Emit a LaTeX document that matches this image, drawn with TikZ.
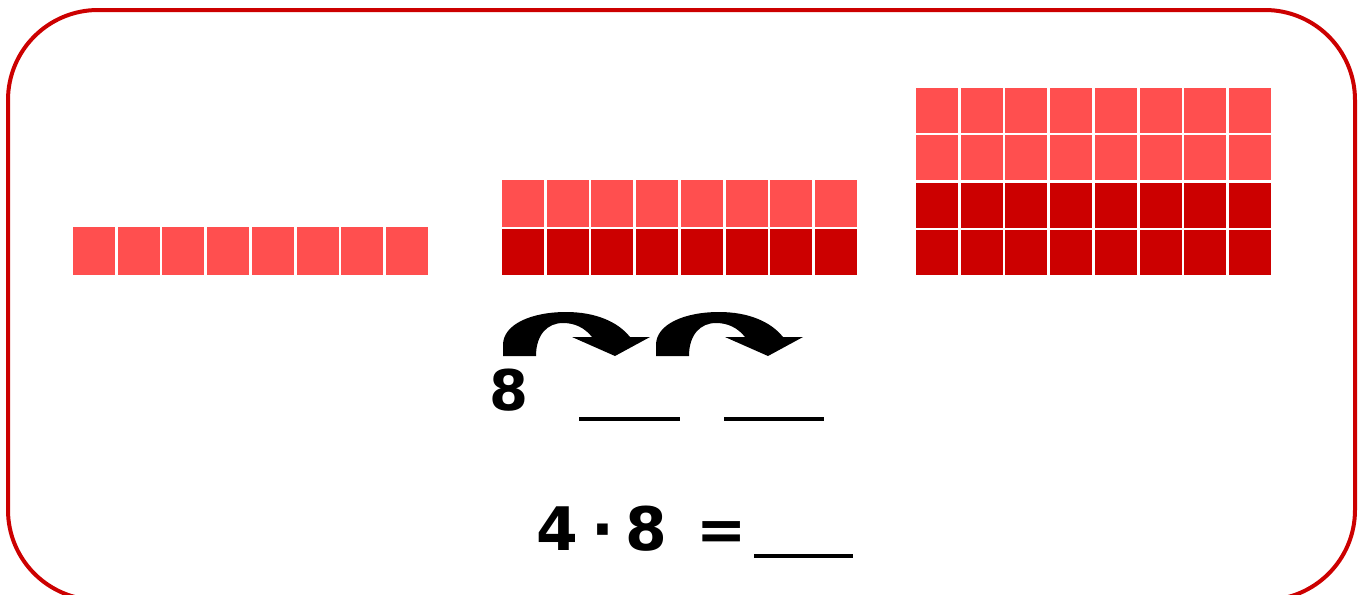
\documentclass[tikz,border=0pt]{standalone}
\usepackage{fontspec}
\setmainfont{DejaVu Sans}
\definecolor{lightred}{HTML}{FF4F4F}
\definecolor{darkred}{HTML}{CC0000}
\begin{document}
\begin{tikzpicture}[x=0.5pt,y=-0.5pt,
  sq/.style={inner sep=0pt, outer sep=0pt, anchor=north west, minimum width=21pt},
  lightsq/.style={sq, fill=lightred},
  darksq/.style={sq, fill=darkred},
  txt/.style={inner sep=0pt, anchor=base, font=\bfseries\fontsize{30pt}{30pt}\selectfont},
  blank/.style={line width=2pt, black},
  jump/.style={fill=black}]
\useasboundingbox (0,0) rectangle (1367,595);
\clip (0,0) rectangle (1367,595);
% frame
\draw[darkred, line width=2pt, rounded corners=45pt] (8,10) rectangle (1355,600);
% left row
\foreach \i in {0,...,7}
  \node[lightsq, minimum height=24pt] (a\i) at ({73+44.7*\i},227) {};
% middle block
\foreach \i in {0,...,7}{
  \node[lightsq, minimum height=23.3pt] (b\i) at ({502+44.7*\i},180) {};
  \node[darksq, minimum height=23pt] (c\i) at ({502+44.7*\i},229) {};
}
% right block
\foreach \i in {0,...,7}{
  \node[lightsq, minimum height=22.5pt] (d\i) at ({916+44.7*\i},88) {};
  \node[lightsq, minimum height=22.5pt] (e\i) at ({916+44.7*\i},135.3) {};
  \node[darksq, minimum height=22.5pt] (f\i) at ({916+44.7*\i},182.6) {};
  \node[darksq, minimum height=22.5pt] (g\i) at ({916+44.7*\i},229.9) {};
}
% jump arrows
\foreach \s in {0,153}{
  \begin{scope}[xshift=\s*0.5pt]
  \fill[jump] (503,356) -- (503,345) .. controls (503,324) and (532,312) .. (566,312)
     .. controls (596,312) and (618,322) .. (630,337) -- (650,337) -- (615,356) -- (572,337) -- (592,337)
     .. controls (585,328) and (575,323) .. (563,323) .. controls (547,323) and (536,335) .. (536,356) -- cycle;
  \end{scope}
}
% numbers and blanks
\node[txt, font=\bfseries\fontsize{28pt}{28pt}\selectfont] (eight) at (509,410) {8};
\coordinate (b1s) at (579,419); \coordinate (b1e) at (680,419);
\coordinate (b2s) at (724,419); \coordinate (b2e) at (824,419);
\draw[blank] (b1s) -- (b1e);
\draw[blank] (b2s) -- (b2e);
\node[txt] (four) at (557,550) {4};
\node[txt] (dot) at (603,550) {·};
\node[txt] (eightb) at (646,550) {8};
\node[txt] (eq) at (722,550) {=};
\coordinate (b3s) at (754,556); \coordinate (b3e) at (853,556);
\draw[blank] (b3s) -- (b3e);
\end{tikzpicture}
\end{document}
